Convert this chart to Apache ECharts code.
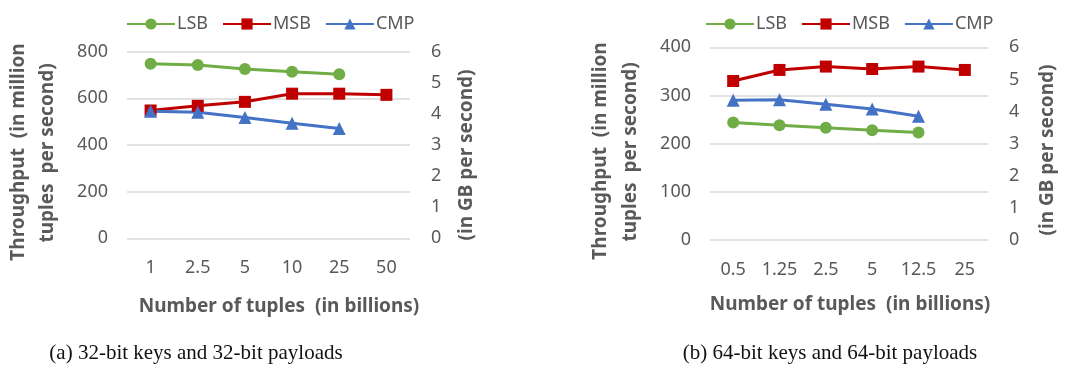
<!DOCTYPE html>
<html>
<head>
<meta charset="utf-8">
<script src="https://cdn.jsdelivr.net/npm/echarts@6/dist/echarts.min.js"></script>
<style>
  html, body { margin: 0; padding: 0; background: #fff; }
  #chart { width: 1079px; height: 369px; }
</style>
</head>
<body>
<div id="chart"></div>
<script>
// (a) 32-bit keys / 32-bit payloads
const categoriesA = ['1', '2.5', '5', '10', '25', '50'];
const lsbA = [748, 743, 726, 714, 703, null];
const msbA = [548, 568, 585, 620, 620, 615];
const cmpA = [545, 540, 518, 493, 471, null];

// (b) 64-bit keys / 64-bit payloads
const categoriesB = ['0.5', '1.25', '2.5', '5', '12.5', '25'];
const lsbB = [244, 238, 233, 228, 223, null];
const msbB = [330, 353, 360, 355, 360, 353];
const cmpB = [290, 291, 282, 272, 257, null];

// axis ranges
const leftMaxA = 800, leftStepA = 200;
const leftMaxB = 400, leftStepB = 100;
const rightMax = 6, rightStep = 1;

const FONT = '"Noto Sans", sans-serif';
const GREY = '#595959';
const COLORS = { LSB: '#70ad47', MSB: '#c00000', CMP: '#4472c4' };
const SYMBOLS = { LSB: 'circle', MSB: 'rect', CMP: 'triangle' };
const SIZES = { LSB: 12, MSB: 12, CMP: 13 };

const chart = echarts.init(document.getElementById('chart'), null, { renderer: 'canvas' });

function xAxis(gridIndex, cats) {
  return {
    type: 'category', gridIndex, data: cats, boundaryGap: true,
    axisLine: { show: false }, axisTick: { show: false },
    axisLabel: { color: GREY, fontFamily: FONT, fontSize: 18, margin: 21, interval: 0, hideOverlap: false }
  };
}
function leftAxis(gridIndex, max, step) {
  return {
    type: 'value', gridIndex, min: 0, max, interval: step, position: 'left',
    axisLine: { show: false }, axisTick: { show: false },
    axisLabel: { color: GREY, fontFamily: FONT, fontSize: 18, margin: 19 },
    splitLine: { lineStyle: { color: '#d9d9d9', width: 1.5 } }
  };
}
function rightAxis(gridIndex) {
  return {
    type: 'value', gridIndex, min: 0, max: rightMax, interval: rightStep, position: 'right',
    axisLine: { show: false }, axisTick: { show: false },
    axisLabel: { color: GREY, fontFamily: FONT, fontSize: 18, margin: 21 },
    splitLine: { show: false }
  };
}
function line(name, data, axisIdx) {
  return {
    type: 'line', name, data,
    xAxisIndex: axisIdx, yAxisIndex: axisIdx * 2,
    symbol: SYMBOLS[name], symbolSize: SIZES[name], showSymbol: true,
    itemStyle: { color: COLORS[name] },
    lineStyle: { color: COLORS[name], width: 3 },
    connectNulls: false, animation: false
  };
}
function legend(left) {
  return {
    left, top: 10, itemWidth: 48, itemHeight: 14, itemGap: 14,
    data: ['LSB', 'MSB', 'CMP'],
    textStyle: { color: GREY, fontFamily: FONT, fontSize: 18, padding: [2, 0, 0, -3] }
  };
}
function vText(text, x, y) {
  return {
    type: 'text', x, y, rotation: Math.PI / 2,
    style: { text, fill: GREY, font: 'bold 19px ' + FONT, align: 'center', verticalAlign: 'middle' }
  };
}
function hText(text, x, y, font, fill) {
  return { type: 'text', x, y, style: { text, fill, font, align: 'center', verticalAlign: 'middle' } };
}

chart.setOption({
  animation: false,
  grid: [
    { left: 127, top: 51.7, width: 283, height: 186.6 },
    { left: 710, top: 47.3, width: 278, height: 192.7 }
  ],
  legend: [legend(121), legend(700)],
  xAxis: [xAxis(0, categoriesA), xAxis(1, categoriesB)],
  yAxis: [
    leftAxis(0, leftMaxA, leftStepA), rightAxis(0),
    leftAxis(1, leftMaxB, leftStepB), rightAxis(1)
  ],
  series: [
    line('LSB', lsbA, 0), line('MSB', msbA, 0), line('CMP', cmpA, 0),
    line('LSB', lsbB, 1), line('MSB', msbB, 1), line('CMP', cmpB, 1)
  ],
  graphic: [
    vText('Throughput  (in million', 19, 152),
    vText('tuples  per second)', 48, 153),
    vText('(in GB per second)', 467, 155),
    hText('Number of tuples  (in billions)', 279, 307, 'bold 19px ' + FONT, GREY),
    vText('Throughput  (in million', 601, 151),
    vText('tuples  per second)', 631, 152),
    vText('(in GB per second)', 1048, 150),
    hText('Number of tuples  (in billions)', 850, 305, 'bold 19px ' + FONT, GREY),
    hText('(a) 32-bit keys and 32-bit payloads', 196, 353, '21px "Liberation Serif", serif', '#111'),
    hText('(b) 64-bit keys and 64-bit payloads', 830, 353, '21px "Liberation Serif", serif', '#111')
  ]
});
</script>
</body>
</html>
